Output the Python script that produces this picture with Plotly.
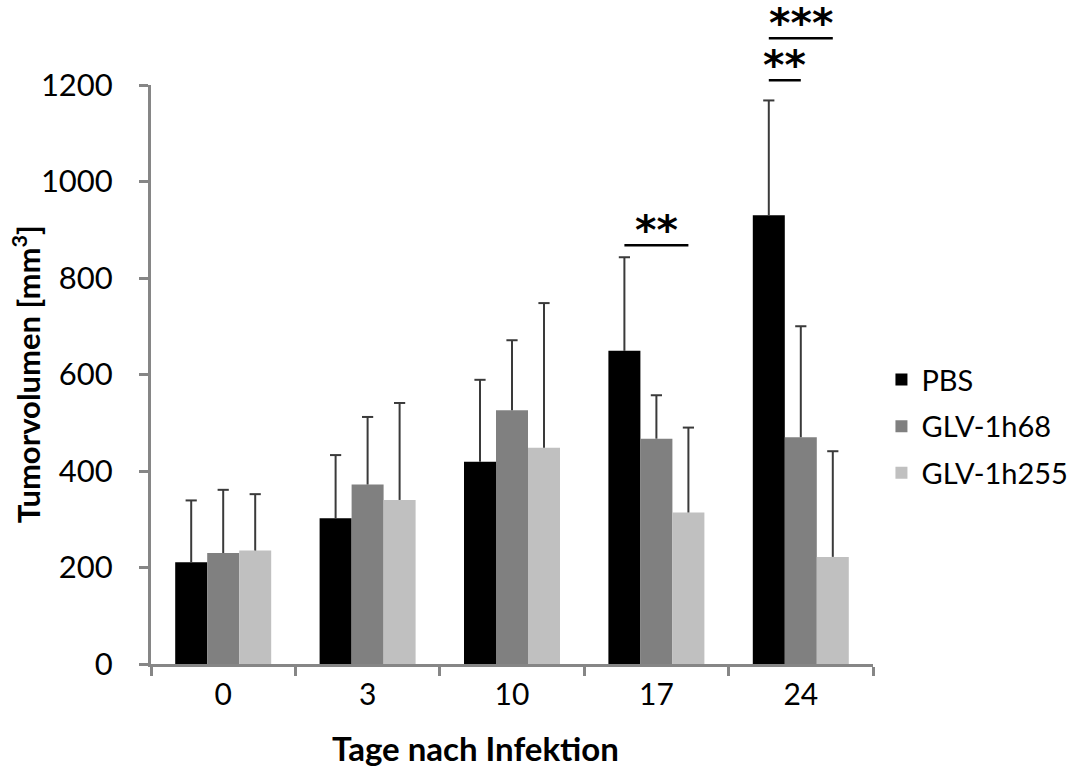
import plotly.graph_objects as go

# Tumour volume (mm³) per day after infection, mean + SD
days = ["0", "3", "10", "17", "24"]
series = ["PBS", "GLV-1h68", "GLV-1h255"]
pbs = [211, 302, 419, 649, 930]
pbs_sd = [128, 131, 170, 194, 238]
glv68 = [230, 372, 526, 467, 470]
glv68_sd = [131, 140, 145, 90, 230]
glv255 = [235, 340, 448, 314, 222]
glv255_sd = [117, 201, 300, 176, 219]

# significance brackets: (day index, first series, last series, height in mm³, label)
sig_day = [3, 4, 4]
sig_from = [0, 0, 0]
sig_to = [2, 1, 2]
sig_height = [868, 1210, 1297]
sig_label = ["**", "**", "***"]

colors = ["#000000", "#808080", "#c0c0c0"]
means = [pbs, glv68, glv255]
sds = [pbs_sd, glv68_sd, glv255_sd]

FONT = "Lato"
AXIS = "#868686"
ERR = "#3a3a3a"
bar_w = 0.2216
pos = list(range(len(days)))


def xpos(i, j):
    return pos[i] + (j - 1) * bar_w


fig = go.Figure()
for j, name in enumerate(series):
    xs = [xpos(i, j) for i in range(len(days))]
    fig.add_trace(go.Bar(
        x=xs, y=means[j], width=bar_w, name=name,
        marker=dict(color=colors[j], line=dict(width=0)),
        legendgroup=name,
        error_y=dict(type="data", symmetric=False, array=sds[j],
                     arrayminus=[0] * len(days), width=0,
                     thickness=2, color=ERR),
    ))
for j, name in enumerate(series):
    xs = [xpos(i, j) for i in range(len(days))]
    tops = [m + s for m, s in zip(means[j], sds[j])]
    fig.add_trace(go.Scatter(
        x=xs, y=tops, mode="markers", showlegend=False, hoverinfo="skip",
        marker=dict(symbol="line-ew", size=8, color=ERR,
                    line=dict(width=2, color=ERR)),
        cliponaxis=False,
    ))

for d, a, b, h, lab in zip(sig_day, sig_from, sig_to, sig_height, sig_label):
    x0 = xpos(d, a)
    x1 = xpos(d, b)
    fig.add_shape(type="line", xref="x", yref="paper",
                  x0=x0, x1=x1, y0=h / 1200, y1=h / 1200,
                  line=dict(color="#000000", width=2.5))
    fig.add_annotation(xref="x", yref="paper", x=(x0 + x1) / 2, y=h / 1200,
                       text="<b>" + lab + "</b>", showarrow=False,
                       yanchor="middle", yshift=24, height=30, valign="top",
                       font=dict(family="DejaVu Sans", size=41, color="#000000"))

# axis titles
fig.add_annotation(xref="paper", yref="paper", x=0.45, y=0, yshift=-84,
                   text="<b>Tage nach Infektion</b>", showarrow=False,
                   yanchor="middle",
                   font=dict(family=FONT, size=33, color="#000000"))
fig.add_annotation(xref="paper", yref="paper", x=-0.172, y=0.5,
                   text="<b>Tumorvolumen [mm<sup>3</sup>]</b>", showarrow=False,
                   textangle=-90, xanchor="center", yanchor="middle",
                   font=dict(family=FONT, size=31, color="#000000"))

fig.update_layout(
    width=1075, height=767,
    margin=dict(l=151, r=202, t=85, b=103, autoexpand=False),
    paper_bgcolor="white", plot_bgcolor="white",
    barmode="overlay",
    font=dict(family=FONT, size=24, color="#000000"),
    showlegend=True,
    legend=dict(x=1.0117, y=0.41, xanchor="left", yanchor="middle",
                traceorder="grouped", tracegroupgap=6,
                font=dict(family=FONT, size=29, color="#000000"),
                bgcolor="rgba(0,0,0,0)", borderwidth=0),
    xaxis=dict(range=[-0.5, 4.5], tickmode="array", tickvals=pos,
               ticktext=days, ticks="", ticklabelstandoff=2,
               showline=True, linecolor=AXIS, linewidth=3,
               showgrid=False, zeroline=False,
               minor=dict(tickmode="array",
                          tickvals=[p - 0.5 for p in pos] + [pos[-1] + 0.5],
                          ticks="outside", ticklen=9, tickwidth=3,
                          tickcolor=AXIS, showgrid=False),
               tickfont=dict(family=FONT, size=30, color="#000000")),
    yaxis=dict(range=[0, 1200], tickmode="linear", tick0=0, dtick=200,
               ticks="outside", ticklen=9, tickwidth=3, tickcolor=AXIS,
               showline=True, linecolor=AXIS, linewidth=3,
               showgrid=False, zeroline=False, ticklabelstandoff=20,
               tickfont=dict(family=FONT, size=31, color="#000000")),
)

fig.write_html("out.html")
